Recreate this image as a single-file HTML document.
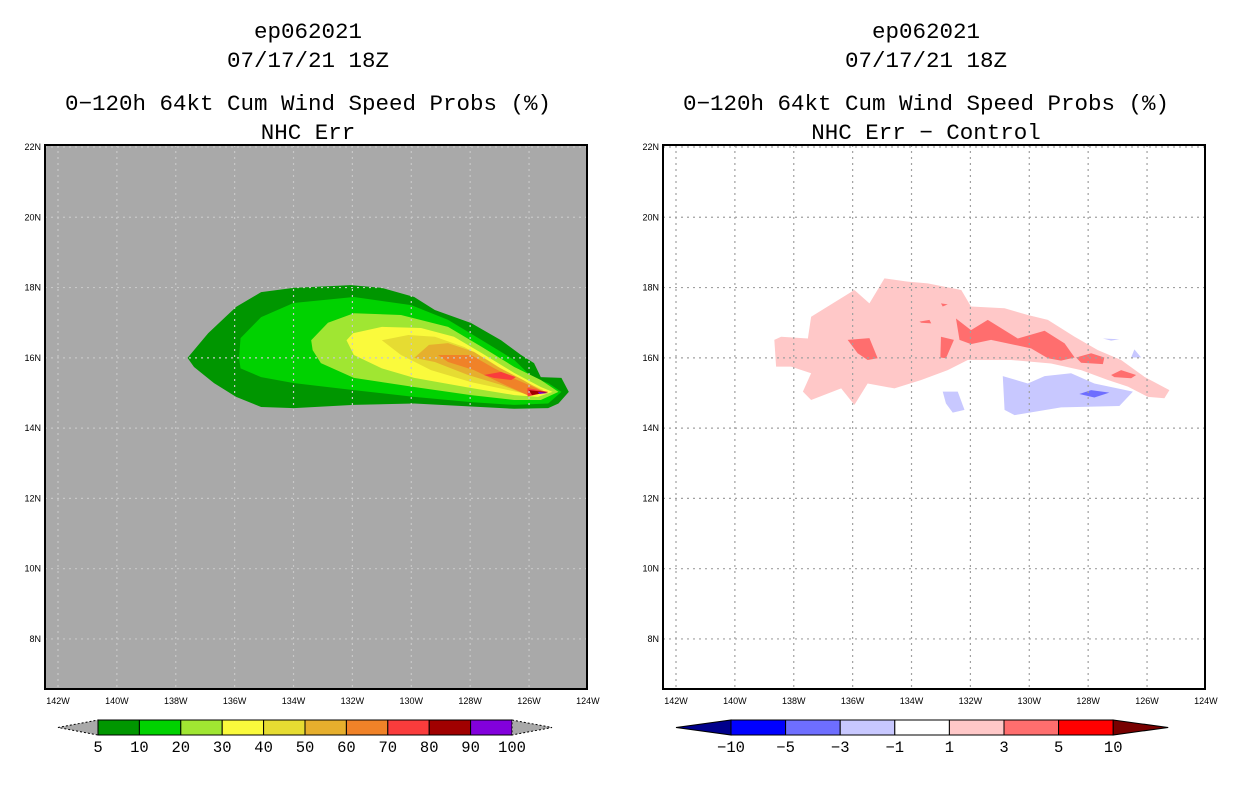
<!DOCTYPE html>
<html><head><meta charset="utf-8"><style>
body{margin:0;background:#fff;width:1236px;height:800px;overflow:hidden;font-family:"Liberation Sans",sans-serif}
svg{position:absolute;left:0;top:0}
</style></head><body>
<svg id="c" width="1236" height="800"></svg>
<script>
const latTicks=[22,20,18,16,14,12,10,8];
const lonTicks=[142,140,138,136,134,132,130,128,126,124];
const leftLevels=['5','10','20','30','40','50','60','70','80','90','100'];
const leftColors=['#009600','#00d200','#a0e632','#fafa3c','#e6dc32','#e6af2d','#f08228','#fa3c3c','#a00000','#8200dc'];
const rightLevels=['\u221210','\u22125','\u22123','\u22121','1','3','5','10'];
const rightColors=['#0000ff','#6e6eff','#c8c8ff','#ffffff','#ffc8c8','#ff6e6e','#ff0000'];
const c5=[[135.95,17.45],[135.1,17.87],[134.0,17.99],[132.05,18.07],[131.0,17.99],[129.9,17.73],[129.2,17.36],[127.97,16.99],[126.95,16.5],[126.27,16.08],[125.83,15.85],[125.6,15.45],[124.9,15.43],[124.65,15.03],[125.0,14.7],[125.35,14.57],[126.5,14.55],[129.9,14.7],[131.95,14.66],[133.98,14.57],[135.1,14.6],[135.95,14.89],[136.7,15.28],[137.38,15.74],[137.6,16.0],[136.9,16.7]];
const c10=[[135.85,16.0],[135.8,16.56],[135.1,17.16],[134.0,17.56],[131.95,17.73],[130.0,17.5],[128.75,17.08],[127.6,16.5],[126.5,15.94],[125.9,15.45],[125.35,15.28],[124.9,15.03],[125.35,14.7],[126.5,14.66],[127.97,14.74],[129.9,14.89],[131.95,15.08],[133.98,15.28],[135.1,15.45],[135.8,15.7]];
const c20=[[133.4,16.5],[132.83,17.0],[131.95,17.27],[130.35,17.22],[128.75,16.88],[127.6,16.31],[126.5,15.74],[125.6,15.37],[125.0,15.03],[125.6,14.8],[126.5,14.8],[127.97,14.94],[129.9,15.17],[131.95,15.43],[133.07,15.85],[133.35,16.22]];
const c30=[[132.2,16.5],[131.98,16.7],[131.0,16.88],[129.67,16.85],[128.55,16.6],[127.6,16.13],[126.5,15.57],[125.6,15.17],[125.2,15.03],[125.7,14.89],[126.5,14.94],[127.97,15.14],[129.9,15.43],[131.0,15.7],[131.95,16.08]];
const c40=[[131.0,16.5],[130.1,16.65],[129.2,16.6],[128.2,16.31],[127.4,15.94],[126.5,15.45],[125.5,15.08],[125.9,14.94],[126.7,15.08],[127.97,15.31],[129.33,15.65],[130.35,16.08]];
const c50=[[129.4,16.37],[128.75,16.42],[127.87,16.17],[127.05,15.74],[126.2,15.37],[125.5,15.03],[126.05,14.94],[126.95,15.23],[128.07,15.51],[129.2,15.88],[129.9,16.0]];
const c60=[[129.1,16.08],[127.97,16.08],[127.2,15.71],[126.4,15.37],[125.6,15.08],[126.05,14.94],[126.95,15.28],[127.87,15.65],[128.75,15.88]];
const c70a=[[127.53,15.51],[126.95,15.6],[126.45,15.45],[126.6,15.37],[127.2,15.43]];
const c70b=[[126.05,15.14],[125.35,15.03],[126.05,14.9]];
const c80=[[126.0,15.08],[125.35,15.02],[125.9,14.94]];
const c90=[[125.7,15.03],[125.35,15.0],[125.65,14.97]];
const pink=[[138.66,16.51],[138.43,16.6],[137.52,16.55],[137.41,17.17],[135.94,17.93],[135.43,17.55],[134.92,18.26],[134.13,18.17],[133.45,18.12],[132.31,17.93],[131.98,17.46],[130.84,17.41],[130.05,17.22],[129.37,17.08],[128.46,16.6],[127.67,16.22],[126.88,15.94],[126.09,15.46],[125.24,15.08],[125.41,14.85],[125.97,14.89],[126.65,15.18],[127.33,15.37],[128.24,15.65],[129.26,15.84],[130.62,15.94],[132.09,15.94],[132.77,15.65],[133.67,15.37],[134.58,15.13],[135.49,15.27],[135.94,14.66],[136.39,15.13],[137.41,14.8],[137.69,15.04],[137.41,15.56],[138.09,15.75],[138.6,15.75]];
const salA=[[136.17,16.51],[135.43,16.56],[135.15,15.99],[135.49,15.94],[135.83,16.13]];
const salB=[[133.0,16.6],[132.56,16.51],[132.83,15.99],[133.02,16.01]];
const salC=[[132.49,17.12],[131.98,16.79],[131.41,17.08],[130.39,16.55],[129.48,16.77],[128.8,16.41],[128.46,16.01],[128.92,15.92],[129.37,15.99],[129.94,16.27],[130.5,16.37],[131.3,16.51],[131.98,16.39],[132.37,16.51]];
const salD=[[128.41,16.01],[127.9,16.13],[127.45,16.01],[127.5,15.82],[128.24,15.86]];
const salE=[[127.22,15.51],[126.88,15.65],[126.37,15.51],[126.54,15.42],[127.11,15.45]];
const salF=[[133.73,17.03],[133.39,17.08],[133.33,16.98],[133.67,17.0]];
const salG=[[133.0,17.55],[132.77,17.52],[132.94,17.46]];
const lbH=[[130.9,15.48],[130.05,15.27],[129.48,15.48],[128.58,15.56],[127.79,15.27],[126.48,15.04],[126.94,14.63],[128.92,14.59],[130.5,14.37],[130.84,14.52]];
const lbI=[[132.94,15.04],[132.43,15.04],[132.2,14.52],[132.6,14.44],[132.83,14.7]];
const lbJ=[[127.5,16.55],[126.94,16.53],[127.22,16.49]];
const lbK=[[126.54,16.01],[126.43,16.24],[126.2,16.01]];
const blL=[[128.3,14.97],[127.9,15.08],[127.28,15.01],[127.79,14.87]];

const S=document.getElementById('c');const NS='http://www.w3.org/2000/svg';
function mk(t,a,p){const e=document.createElementNS(NS,t);for(const k in a)e.setAttribute(k,a[k]);(p||S).appendChild(e);return e;}
const X0=[58,676],PW=29.44,Y22=147,PH=35.14;
function xs(p,lon){return X0[p]+(142-lon)*PW;}
function ys(lat){return Y22+(22-lat)*PH;}
const boxL=[45,663],boxR=[587,1205],boxT=145,boxB=689;
function poly(p,pts,fill,name){const e=mk('polygon',{points:pts.map(q=>xs(p,q[0])+','+ys(q[1])).join(' '),fill:fill});

}
function txt(x,y,s,size,anchor,name,fam){const e=mk('text',{x:x,y:y,'font-size':size,'text-anchor':anchor||'middle',fill:'#000','font-family':fam||'Liberation Sans, sans-serif'});e.textContent=s;

}
const MONO='Liberation Mono, monospace';
const titles=[['ep062021','07/17/21 18Z','0\u2212120h 64kt Cum Wind Speed Probs (%)','NHC Err'],['ep062021','07/17/21 18Z','0\u2212120h 64kt Cum Wind Speed Probs (%)','NHC Err \u2212 Control']];
const centers=[308,926];
for(let p=0;p<2;p++){
  const cx=centers[p];
  txt(cx,38,titles[p][0],22.5,'middle','title-storm',MONO);
  txt(cx,67,titles[p][1],22.5,'middle','title-date',MONO);
  txt(cx,110,titles[p][2],22.5,'middle','title-product',MONO);
  txt(cx,139,titles[p][3],22.5,'middle','title-subtitle',MONO);
  const bg=mk('rect',{x:boxL[p],y:boxT,width:boxR[p]-boxL[p],height:boxB-boxT,fill:p?'#fff':'#a9a9a9'});
  
  
  if(p===0){poly(0,c5,leftColors[0],'contour-5');poly(0,c10,leftColors[1],'contour-10');poly(0,c20,leftColors[2],'contour-20');poly(0,c30,leftColors[3],'contour-30');poly(0,c40,leftColors[4],'contour-40');poly(0,c50,leftColors[5],'contour-50');poly(0,c60,leftColors[6],'contour-60');poly(0,c70a,leftColors[7],'contour-70');poly(0,c70b,leftColors[7],'contour-70');poly(0,c80,leftColors[8],'contour-80');poly(0,c90,leftColors[9],'contour-90');}
  else{poly(1,pink,rightColors[4],'diff-1-3');[salA,salB,salC,salD,salE,salF,salG].forEach(s=>poly(1,s,rightColors[5],'diff-3-5'));[lbH,lbI,lbJ,lbK].forEach(s=>poly(1,s,rightColors[2],'diff-neg1-neg3'));poly(1,blL,rightColors[1],'diff-neg3-neg5');}
  const gc=p?'#a0a0a0':'#c8c8c8';
  lonTicks.forEach(l=>{const x=xs(p,l);
    if(x>boxL[p]+1&&x<boxR[p]-1){const g=mk('line',{x1:x,x2:x,y1:boxT,y2:boxB,stroke:gc,'stroke-width':1.2,'stroke-dasharray':'2,4'});}
    txt(x,704,l+'W',9,'middle','lon-tick-label');});
  latTicks.forEach(l=>{const y=ys(l);
    if(y>boxT+1){const g=mk('line',{x1:boxL[p],x2:boxR[p],y1:y,y2:y,stroke:gc,'stroke-width':1.2,'stroke-dasharray':'2,4'});}
    txt(boxL[p]-4,y+3,l+'N',9,'end','lat-tick-label');});
  const fr=mk('rect',{x:boxL[p],y:boxT,width:boxR[p]-boxL[p],height:boxB-boxT,fill:'none',stroke:'#000','stroke-width':2});
  
  
}
(function(){const x0=98,w=41.4,y0=720,h=15;
  const t1=mk('polygon',{points:`58,727.5 ${x0},${y0} ${x0},${y0+h}`,fill:'#a9a9a9',stroke:'#000','stroke-width':1,'stroke-dasharray':'2,2'});
  leftColors.forEach((col,i)=>{const r=mk('rect',{x:x0+i*w,y:y0,width:w,height:h,fill:col,stroke:'#000','stroke-width':1});});
  const xe=x0+leftColors.length*w;
  const t2=mk('polygon',{points:`${xe},${y0} ${xe+40},727.5 ${xe},${y0+h}`,fill:'#a9a9a9',stroke:'#000','stroke-width':1,'stroke-dasharray':'2,2'});
  leftLevels.forEach((s,i)=>txt(x0+i*w,752,s,15.5,'middle','colorbar-label',MONO));
})();
(function(){const x0=731,w=54.6,y0=720,h=15;
  const t1=mk('polygon',{points:`676,727.5 ${x0},${y0} ${x0},${y0+h}`,fill:'#00008c',stroke:'#000','stroke-width':1});
  rightColors.forEach((col,i)=>{const r=mk('rect',{x:x0+i*w,y:y0,width:w,height:h,fill:col,stroke:'#000','stroke-width':1});});
  const xe=x0+rightColors.length*w;
  const t2=mk('polygon',{points:`${xe},${y0} ${xe+55},727.5 ${xe},${y0+h}`,fill:'#780000',stroke:'#000','stroke-width':1});
  rightLevels.forEach((s,i)=>txt(x0+i*w,752,s,15.5,'middle','colorbar-label',MONO));
})();
</script>
</body></html>
